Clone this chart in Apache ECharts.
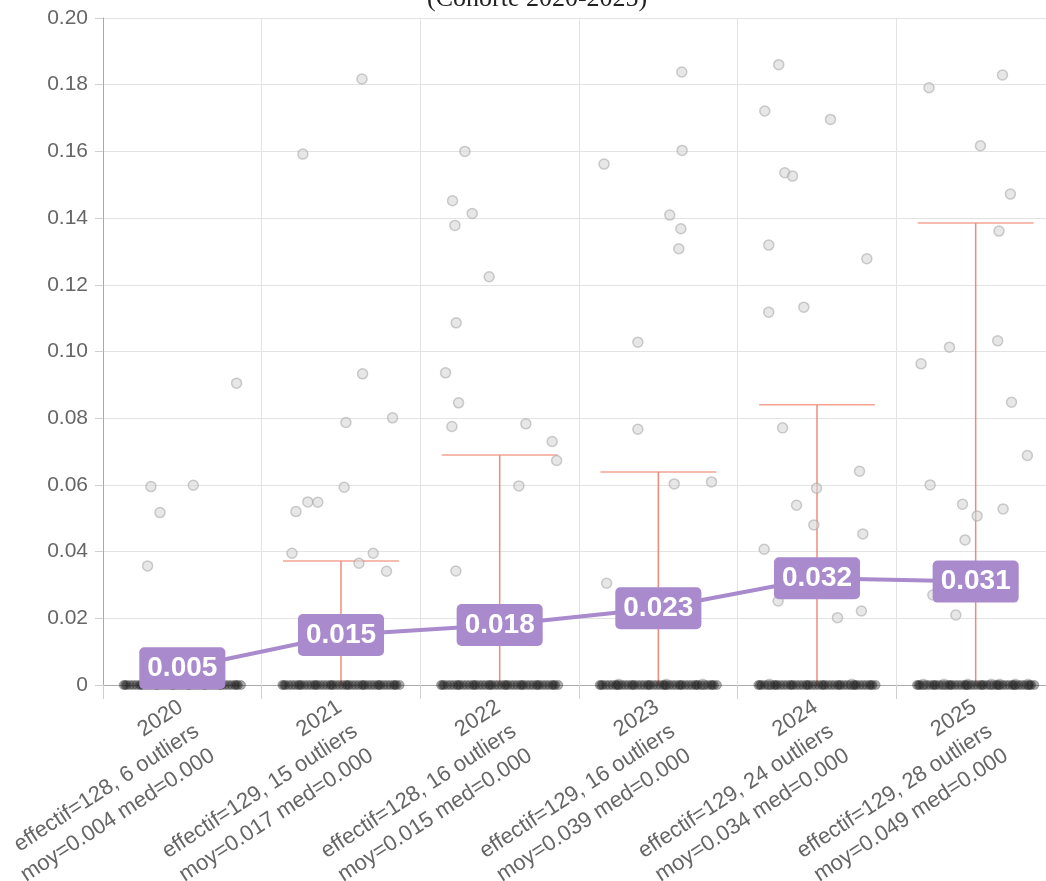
<!DOCTYPE html>
<html>
<head>
<meta charset="utf-8">
<title>Cohorte 2020-2025</title>
<script src="https://cdn.jsdelivr.net/npm/echarts@6/dist/echarts.min.js"></script>
<style>
  html, body { margin: 0; padding: 0; background: #fff; }
  #chart { width: 1046px; height: 881px; }
</style>
</head>
<body>
<div id="chart"></div>
<script>
// Years of the cohort and the per-year summary shown under each column
const years = ['2020', '2021', '2022', '2023', '2024', '2025'];
const effectif = [128, 129, 128, 129, 129, 129];
const outlierCounts = [6, 15, 16, 16, 24, 28];
const moyennes = ['0.004', '0.017', '0.015', '0.039', '0.034', '0.049'];
const medianes = ['0.000', '0.000', '0.000', '0.000', '0.000', '0.000'];

// Trend line (labelled values)
const trendValues = [0.005, 0.015, 0.018, 0.023, 0.032, 0.031];

// Upper whisker per year (lower end is 0)
const whiskerLow = [0, 0, 0, 0, 0, 0];
const whiskerHigh = [0, 0.0372, 0.069, 0.0639, 0.084, 0.1385];

// Outliers per year: horizontal jitter (in category widths) and value
const outliers2020 = { jitter: [0.342, -0.198, 0.069, -0.141, -0.219, -0.08],
  values: [0.0905, 0.0595, 0.0599, 0.0517, 0.0357, 0.008] };
const outliers2021 = { jitter: [0.136, 0.031, 0.325, 0.020, -0.209, -0.146, -0.284, -0.309, 0.203, 0.113, 0.287, -0.240, 0.132, -0.10, 0.15],
  values: [0.0933, 0.0787, 0.0801, 0.0593, 0.0549, 0.0548, 0.0520, 0.0395, 0.0395, 0.0365, 0.0341, 0.1592, 0.1817, 0.012, 0.018] };
const outliers2022 = { jitter: [-0.219, -0.297, -0.173, -0.282, -0.066, -0.274, -0.341, -0.259, -0.301, 0.165, 0.331, 0.359, 0.121, -0.276, -0.15, 0.20],
  values: [0.1600, 0.1452, 0.1414, 0.1378, 0.1224, 0.1086, 0.0936, 0.0846, 0.0775, 0.0783, 0.0730, 0.0673, 0.0597, 0.0342, 0.017, 0.020] };
const outliers2023 = { jitter: [0.150, -0.342, 0.072, 0.142, 0.129, -0.129, -0.129, 0.100, 0.335, 0.148, -0.326, -0.12, 0.18, -0.25, 0.05, 0.28],
  values: [0.1603, 0.1562, 0.1409, 0.1368, 0.1308, 0.1028, 0.0767, 0.0603, 0.0609, 0.1838, 0.0305, 0.024, 0.026, 0.0002, 0.0002, 0.0002] };
const outliers2024 = { jitter: [-0.241, -0.329, 0.085, -0.203, -0.154, -0.304, 0.314, -0.304, -0.083, -0.217, 0.268, -0.003, -0.129, -0.020, 0.289, -0.333, -0.245, 0.129, 0.280, -0.10, 0.05, 0.18, -0.30, 0.22],
  values: [0.1860, 0.1721, 0.1696, 0.1536, 0.1526, 0.1319, 0.1278, 0.1118, 0.1133, 0.0771, 0.0641, 0.0590, 0.0539, 0.0480, 0.0453, 0.0407, 0.0252, 0.0202, 0.0222, 0.031, 0.034, 0.029, 0.0002, 0.0002] };
const outliers2025 = { jitter: [0.169, -0.294, 0.030, 0.219, 0.147, 0.139, -0.165, -0.344, 0.226, 0.326, -0.287, -0.083, 0.173, 0.009, -0.067, -0.125, -0.270, -0.15, 0.05, 0.20, -0.05, -0.33, -0.20, -0.05, 0.10, 0.25, 0.33, 0.15],
  values: [0.1829, 0.1791, 0.1617, 0.1472, 0.1361, 0.1032, 0.1013, 0.0963, 0.0848, 0.0688, 0.0600, 0.0542, 0.0528, 0.0507, 0.0435, 0.0210, 0.0270, 0.030, 0.033, 0.032, 0.028, 0.0002, 0.0002, 0.0002, 0.0002, 0.0002, 0.0002, 0.0002] };
const outliersByYear = [outliers2020, outliers2021, outliers2022, outliers2023, outliers2024, outliers2025];

// Observations at zero: shared jitter pattern along the band
const zeroJitter = [-0.37, -0.35, -0.33, -0.31, -0.29, -0.27, -0.25, -0.23, -0.21, -0.19,
  -0.17, -0.15, -0.13, -0.11, -0.09, -0.07, -0.05, -0.03, -0.01, 0.01, 0.03, 0.05, 0.07,
  0.09, 0.11, 0.13, 0.15, 0.17, 0.19, 0.21, 0.23, 0.25, 0.27, 0.29, 0.31, 0.33, 0.35, 0.37,
  -0.36, -0.26, -0.16, -0.06, 0.04, 0.14, 0.24, 0.34];
const zeroValue = 0;

// Y axis ticks
const yMin = 0, yMax = 0.2, yStep = 0.02;

const PURPLE = '#a98bcd';
const WHISKER = 'rgba(238,118,98,0.85)';
const FONT = '"Liberation Sans", Arial, Helvetica, sans-serif';

const outlierPoints = [];
outliersByYear.forEach((o, i) => {
  o.values.forEach((v, k) => outlierPoints.push([i + o.jitter[k], v]));
});
const zeroPoints = [];
years.forEach((y, i) => {
  zeroJitter.forEach(j => zeroPoints.push([i + j, zeroValue]));
});
const whiskerData = years.map((y, i) => [i, whiskerLow[i], whiskerHigh[i]]);

const chart = echarts.init(document.getElementById('chart'), null, { renderer: 'canvas' });

chart.setOption({
  animation: false,
  backgroundColor: '#fff',
  title: {
    text: '(Cohorte 2020-2025)',
    left: 422,
    top: -19,
    textStyle: { fontFamily: '"Liberation Serif", "Times New Roman", serif', fontSize: 26, fontWeight: 'normal', color: '#222' }
  },
  // the plot runs a little past the right edge of the page
  grid: { left: 103, top: 18, width: 952, height: 667, containLabel: false, outerBoundsMode: 'none' },
  xAxis: [
    {
      type: 'category',
      data: years,
      boundaryGap: true,
      axisLine: { show: true, lineStyle: { color: '#aaa', width: 1 } },
      axisTick: { show: true, length: 14, lineStyle: { color: '#d0d0d0' } },
      splitLine: { show: true, lineStyle: { color: '#e3e3e3', width: 1 } },
      axisLabel: {
        interval: 0,
        rotate: 33,
        align: 'right',
        verticalAlign: 'top',
        margin: 2,
        padding: [0, 11, 0, 0],
        color: '#666',
        fontFamily: FONT,
        fontSize: 22,
        lineHeight: 29,
        formatter: (value, idx) =>
          value + '\neffectif=' + effectif[idx] + ', ' + outlierCounts[idx] + ' outliers\nmoy=' +
          moyennes[idx] + ' med=' + medianes[idx]
      }
    },
    { type: 'value', min: -0.5, max: 5.5, show: false }
  ],
  yAxis: {
    type: 'value',
    min: yMin,
    max: yMax,
    interval: yStep,
    axisLine: { show: true, onZero: false, lineStyle: { color: '#aaa', width: 1 } },
    axisTick: { show: true, length: 8, lineStyle: { color: '#d0d0d0' } },
    splitLine: { show: true, lineStyle: { color: '#e3e3e3', width: 1 } },
    axisLabel: {
      margin: 15,
      color: '#666',
      fontFamily: FONT,
      fontSize: 21,
      formatter: v => (Math.abs(v) < 1e-9 ? '0' : v.toFixed(2))
    }
  },
  series: [
    {
      name: 'whisker',
      type: 'custom',
      xAxisIndex: 0,
      z: 2,
      encode: { x: 0, y: [1, 2] },
      data: whiskerData,
      renderItem: (params, api) => {
        const i = api.value(0);
        const hi = api.value(2);
        if (!(hi > 0)) return null;
        const low = api.coord([i, api.value(1)]);
        const high = api.coord([i, hi]);
        const half = api.size([1, 0])[0] * 0.365;
        return {
          type: 'group',
          children: [
            { type: 'line', shape: { x1: low[0], y1: low[1], x2: high[0], y2: high[1] },
              style: { stroke: WHISKER, lineWidth: 1.5 } },
            { type: 'line', shape: { x1: high[0] - half, y1: high[1], x2: high[0] + half, y2: high[1] },
              style: { stroke: 'rgba(240,140,120,0.8)', lineWidth: 1.5 } }
          ]
        };
      }
    },
    {
      name: 'outliers',
      type: 'scatter',
      xAxisIndex: 1,
      z: 3,
      symbolSize: 10,
      itemStyle: { color: 'rgba(215,215,215,0.75)', borderColor: 'rgba(165,165,165,0.7)', borderWidth: 1.5 },
      data: outlierPoints
    },
    {
      name: 'zeros',
      type: 'scatter',
      xAxisIndex: 1,
      z: 4,
      symbolSize: 9,
      itemStyle: { color: 'rgba(20,20,20,0.45)', borderColor: 'rgba(60,60,60,0.35)', borderWidth: 1 },
      data: zeroPoints
    },
    {
      name: 'moyenne',
      type: 'line',
      xAxisIndex: 0,
      z: 5,
      data: trendValues,
      symbol: 'circle',
      symbolSize: 2,
      showSymbol: true,
      lineStyle: { color: PURPLE, width: 4 },
      itemStyle: { color: PURPLE },
      label: {
        show: true,
        position: 'inside',
        formatter: p => p.value.toFixed(3),
        color: '#fff',
        fontFamily: FONT,
        fontWeight: 'bold',
        fontSize: 28,
        lineHeight: 32,
        backgroundColor: PURPLE,
        borderRadius: 5,
        padding: [5, 8, 5, 8]
      }
    }
  ]
});
</script>
</body>
</html>
